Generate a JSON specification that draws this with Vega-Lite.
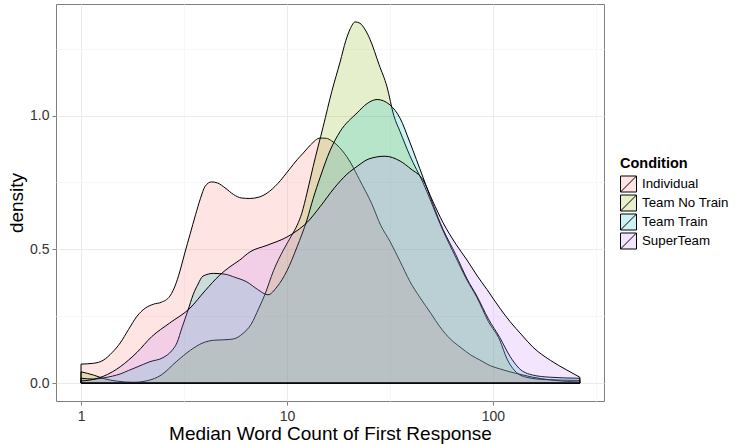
{
"$schema": "https://vega.github.io/schema/vega-lite/v6.json",
"width": 548, "height": 397,
"autosize": {"type": "none"},
"padding": {"left": 56, "top": 4, "right": 134, "bottom": 43},
"background": "white",
"config": {"view": {"stroke": "#7F7F7F", "strokeWidth": 1}, "font": "Liberation Sans"},
"datasets": {
"I": [[1,0.071],[1.15,0.074],[1.28,0.085],[1.42,0.115],[1.55,0.15],[1.7,0.2],[1.87,0.25],[2.05,0.28],[2.25,0.295],[2.45,0.302],[2.7,0.325],[2.9,0.375],[3.05,0.43],[3.2,0.49],[3.38,0.555],[3.6,0.63],[3.8,0.69],[4.0,0.735],[4.3,0.752],[4.6,0.748],[5.0,0.73],[5.5,0.705],[6.0,0.692],[6.6,0.69],[7.3,0.695],[8.0,0.71],[9.0,0.745],[10.3,0.8],[11.2,0.835],[12.0,0.86],[13.0,0.89],[14.5,0.916],[15.5,0.915],[16.5,0.905],[18.5,0.87],[20.5,0.82],[22.5,0.76],[25.8,0.67],[28.5,0.59],[31.6,0.53],[35.4,0.455],[39.5,0.38],[44.2,0.32],[50,0.26],[55.3,0.21],[62,0.165],[69.2,0.135],[78,0.105],[86.5,0.086],[97,0.065],[108,0.053],[121,0.042],[140,0.03],[156,0.022],[190,0.012],[230,0.006],[264,0.004]],
"N": [[1,0.042],[1.15,0.03],[1.3,0.016],[1.5,0.007],[1.8,0.003],[2.1,0.009],[2.45,0.03],[2.9,0.08],[3.4,0.123],[3.9,0.15],[4.4,0.16],[5.0,0.162],[5.5,0.165],[6.1,0.185],[6.7,0.22],[7.3,0.28],[7.8,0.33],[8.6,0.42],[9.6,0.497],[10.5,0.55],[11.2,0.59],[11.8,0.635],[12.5,0.71],[13.4,0.81],[15.0,0.96],[16.5,1.09],[18.1,1.2],[19.3,1.28],[20.3,1.325],[21.4,1.35],[22.6,1.345],[24.0,1.32],[25.3,1.285],[28,1.19],[30.6,1.107],[33,1.0],[35.4,0.94],[39.5,0.85],[45.7,0.75],[57.2,0.57],[66,0.47],[74.8,0.385],[83.6,0.32],[95,0.23],[108,0.16],[117,0.09],[128,0.045],[145,0.022],[180,0.013],[264,0.01]],
"T": [[1,0.018],[1.15,0.015],[1.28,0.019],[1.42,0.026],[1.55,0.034],[1.7,0.047],[1.87,0.06],[2.16,0.08],[2.5,0.095],[2.75,0.12],[2.92,0.15],[3.1,0.21],[3.3,0.27],[3.5,0.33],[3.7,0.37],[3.91,0.4],[4.4,0.41],[5.0,0.407],[5.6,0.395],[6.39,0.378],[7.2,0.35],[8.08,0.33],[8.95,0.36],[10,0.42],[11.2,0.51],[12.5,0.61],[13.4,0.69],[14.5,0.77],[16.2,0.87],[18.1,0.94],[21.9,1.01],[24.5,1.045],[27.4,1.06],[31.6,1.04],[35.4,0.99],[39.5,0.9],[45.7,0.77],[57.2,0.575],[66,0.48],[74.8,0.39],[83.6,0.325],[95,0.24],[108,0.17],[121,0.1],[134,0.055],[156,0.03],[189,0.022],[264,0.018]],
"S": [[1,0.008],[1.1,0.011],[1.28,0.025],[1.42,0.042],[1.55,0.061],[1.87,0.115],[2.2,0.173],[2.7,0.225],[3.38,0.28],[4.0,0.345],[4.72,0.404],[5.29,0.435],[5.9,0.46],[6.6,0.49],[8.0,0.515],[10.0,0.546],[11.2,0.57],[12.5,0.6],[14.5,0.66],[17,0.73],[19.5,0.78],[21.9,0.81],[25,0.838],[29.9,0.848],[35.4,0.83],[40,0.8],[45.7,0.76],[51,0.68],[57.2,0.6],[66,0.52],[74.8,0.46],[84,0.4],[93.5,0.35],[108,0.28],[121,0.23],[138,0.18],[156,0.135],[190,0.085],[228,0.049],[264,0.022]]
},
"encoding": {
"x": {"field": "x", "type": "quantitative", "title": "Median Word Count of First Response",
  "scale": {"type": "log", "domain": [0.756, 346], "nice": false},
  "axis": {"values": [1, 3.16228, 10, 31.6228, 100, 316.228], "labelExpr": "abs(log(datum.value)/LN10 - round(log(datum.value)/LN10)) > 0.1 ? '' : format(datum.value, 'd')", "grid": true,
    "gridColor": {"condition": {"test": "abs(log(datum.value)/LN10 - round(log(datum.value)/LN10)) > 0.1", "value": "#F7F7F7"}, "value": "#EBEBEB"},
    "tickOpacity": {"condition": {"test": "abs(log(datum.value)/LN10 - round(log(datum.value)/LN10)) > 0.1", "value": 0}, "value": 1},
    "tickColor": "#7F7F7F", "tickSize": 4, "domain": false, "labelFontSize": 14, "labelColor": "#333333", "labelPadding": 4, "labelFlush": false, "labelOverlap": false,
    "titleFontSize": 19, "titleFontWeight": "normal", "titleColor": "black", "titlePadding": 1}},
"y": {"field": "density", "type": "quantitative", "stack": null, "title": "density",
  "scale": {"domain": [-0.067, 1.417], "nice": false, "zero": false},
  "axis": {"values": [0, 0.25, 0.5, 0.75, 1.0, 1.25], "labelExpr": "datum.value % 0.5 !== 0 ? '' : format(datum.value, '.1f')", "grid": true,
    "gridColor": {"condition": {"test": "datum.value % 0.5 !== 0", "value": "#F7F7F7"}, "value": "#EBEBEB"},
    "tickOpacity": {"condition": {"test": "datum.value % 0.5 !== 0", "value": 0}, "value": 1},
    "tickColor": "#7F7F7F", "tickSize": 4, "domain": false, "labelFontSize": 14, "labelColor": "#333333", "labelPadding": 3, "labelOverlap": false,
    "titleFontSize": 19, "titleFontWeight": "normal", "titleColor": "black", "titlePadding": 3}},
"y2": {"datum": 0},
"color": {"field": "Condition", "type": "nominal",
  "scale": {"domain": ["Individual", "Team No Train", "Team Train", "SuperTeam"], "range": ["#F8766D", "#7CAE00", "#00BFC4", "#C77CFF"]},
  "legend": {"title": "Condition", "orient": "none", "legendX": 564, "legendY": 153, "padding": 0,
    "titleFontSize": 14.5, "titleFontWeight": "bold", "titleColor": "black", "titlePadding": 4,
    "labelFontSize": 13.3, "labelColor": "black", "labelOffset": 5,
    "symbolType": "M-1,-1H1V1H-1Z M-1,1L1,-1", "symbolSize": 256, "symbolStrokeColor": "black", "symbolStrokeWidth": 1, "rowPadding": -10,
    "encode": {"symbols": {"update": {"fillOpacity": {"value": 0.2}, "stroke": {"value": "black"}, "strokeWidth": {"value": 1}}}}}}
},
"layer": [
{"data": {"name": "I"}, "transform": [{"calculate": "'Individual'", "as": "Condition"}, {"calculate": "datum[0]", "as": "x"}, {"calculate": "datum[1]", "as": "density"}], "mark": {"type": "area", "interpolate": "monotone", "fillOpacity": 0.2, "stroke": "black", "strokeWidth": 1}},
{"data": {"name": "N"}, "transform": [{"calculate": "'Team No Train'", "as": "Condition"}, {"calculate": "datum[0]", "as": "x"}, {"calculate": "datum[1]", "as": "density"}], "mark": {"type": "area", "interpolate": "monotone", "fillOpacity": 0.2, "stroke": "black", "strokeWidth": 1}},
{"data": {"name": "T"}, "transform": [{"calculate": "'Team Train'", "as": "Condition"}, {"calculate": "datum[0]", "as": "x"}, {"calculate": "datum[1]", "as": "density"}], "mark": {"type": "area", "interpolate": "monotone", "fillOpacity": 0.2, "stroke": "black", "strokeWidth": 1}},
{"data": {"name": "S"}, "transform": [{"calculate": "'SuperTeam'", "as": "Condition"}, {"calculate": "datum[0]", "as": "x"}, {"calculate": "datum[1]", "as": "density"}], "mark": {"type": "area", "interpolate": "monotone", "fillOpacity": 0.2, "stroke": "black", "strokeWidth": 1}}
]
}
